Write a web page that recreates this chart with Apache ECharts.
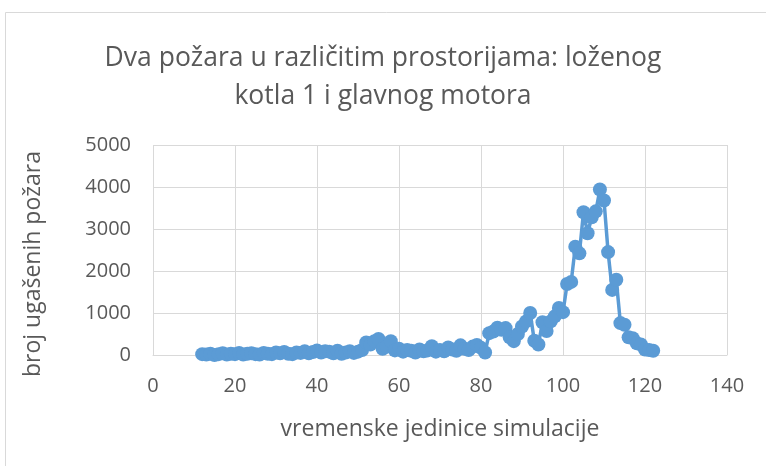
<!DOCTYPE html>
<html>
<head>
<meta charset="utf-8">
<script src="https://cdn.jsdelivr.net/npm/echarts@6/dist/echarts.min.js"></script>
<style>
  html, body { margin: 0; padding: 0; background: #ffffff; }
  #chart { width: 766px; height: 466px; }
</style>
</head>
<body>
<div id="chart"></div>
<script>
// Simulation time steps
const timeSteps = [
  12, 13, 14, 15, 16, 17, 18, 19, 20, 21, 22, 23, 24, 25, 26, 27, 28, 29, 30, 31,
  32, 33, 34, 35, 36, 37, 38, 39, 40, 41, 42, 43, 44, 45, 46, 47, 48, 49, 50, 51,
  52, 53, 54, 55, 56, 57, 58, 59, 60, 61, 62, 63, 64, 65, 66, 67, 68, 69, 70, 71,
  72, 73, 74, 75, 76, 77, 78, 79, 80, 81, 82, 83, 84, 85, 86, 87, 88, 89, 90, 91,
  92, 93, 94, 95, 96, 97, 98, 99, 100, 101, 102, 103, 104, 105, 106, 107, 108, 109, 110, 111,
  112, 113, 114, 115, 116, 117, 118, 119, 120, 121, 122
];
// Number of extinguished fires per time step
const extinguished = [
  20, 10, 30, 0, 20, 40, 10, 30, 20, 50, 10, 30, 40, 20, 10, 50, 30, 20, 60, 40,
  70, 30, 20, 60, 50, 90, 40, 70, 110, 60, 90, 80, 40, 100, 30, 60, 90, 50, 80, 120,
  300, 250, 330, 380, 150, 200, 330, 110, 150, 80, 120, 100, 60, 130, 90, 110, 210, 80, 120, 90,
  180, 130, 100, 230, 150, 120, 200, 240, 170, 60, 520, 560, 650, 600, 640, 420, 330, 500, 680, 800,
  1000, 340, 250, 780, 570, 800, 920, 1120, 1020, 1690, 1740, 2580, 2420, 3400, 2900, 3280, 3420, 3940, 3680, 2450,
  1550, 1790, 760, 720, 420, 400, 280, 250, 130, 120, 100
];
const xTicks = { min: 0, max: 140, step: 20 };
const yTicks = { min: 0, max: 5000, step: 1000 };

const titleText = 'Dva požara u različitim prostorijama: loženog\nkotla 1 i glavnog motora';
const xName = 'vremenske jedinice simulacije';
const yName = 'broj ugašenih požara';

const points = timeSteps.map((t, i) => [t, extinguished[i]]);

const FONT = '"Open Sans", "Noto Sans", sans-serif';
const TXT = '#595959';
const GRID = '#d9d9d9';

const chart = echarts.init(document.getElementById('chart'), null, { renderer: 'canvas' });
chart.setOption({
  backgroundColor: '#ffffff',
  animation: false,
  graphic: [{
    type: 'rect',
    shape: { x: 5.5, y: 12.5, width: 800, height: 500 },
    style: { fill: 'none', stroke: '#d9d9d9', lineWidth: 1 },
    silent: true,
    z: -10
  }],
  title: {
    text: titleText,
    left: 'center',
    top: 39,
    padding: 0,
    textStyle: {
      fontFamily: FONT,
      fontSize: 26.5,
      fontWeight: 'normal',
      color: TXT,
      lineHeight: 38
    }
  },
  grid: { left: 153, right: 39, top: 145, bottom: 111, containLabel: false },
  xAxis: {
    type: 'value',
    min: xTicks.min, max: xTicks.max, interval: xTicks.step,
    name: xName,
    nameLocation: 'middle',
    nameGap: 63,
    nameTextStyle: { fontFamily: FONT, fontSize: 23, color: TXT },
    axisLine: { show: true, lineStyle: { color: GRID, width: 1 } },
    axisTick: { show: false },
    axisLabel: { fontFamily: FONT, fontSize: 20, color: TXT, margin: 21, formatter: v => String(v) },
    splitLine: { show: true, lineStyle: { color: GRID, width: 1 } }
  },
  yAxis: {
    type: 'value',
    min: yTicks.min, max: yTicks.max, interval: yTicks.step,
    name: yName,
    nameLocation: 'middle',
    nameGap: 108,
    nameTextStyle: { fontFamily: FONT, fontSize: 23, color: TXT, padding: [0, 28, 0, 0] },
    axisLine: { show: false },
    axisTick: { show: false },
    axisLabel: { fontFamily: FONT, fontSize: 20, color: TXT, margin: 22, formatter: v => String(v) },
    splitLine: { show: true, lineStyle: { color: GRID, width: 1 } }
  },
  series: [{
    type: 'line',
    data: points,
    symbol: 'circle',
    symbolSize: 14,
    showSymbol: true,
    lineStyle: { color: '#5b9bd5', width: 3.5 },
    itemStyle: { color: '#5b9bd5', borderWidth: 0 },
    z: 3
  }]
});
</script>
</body>
</html>
